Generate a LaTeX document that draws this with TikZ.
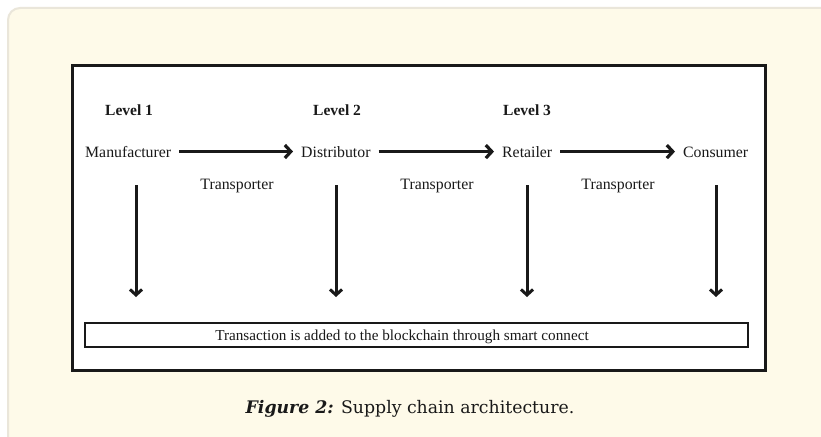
\documentclass[tikz,border=0pt]{standalone}
\usepackage{fontspec}
\setmainfont{Liberation Serif}
\newfontfamily\capfont{DejaVu Serif}
\usetikzlibrary{arrows.meta}
\definecolor{panel}{RGB}{254,250,233}
\definecolor{panelrule}{RGB}{234,230,218}
\definecolor{ink}{RGB}{25,25,25}
\begin{document}
\begin{tikzpicture}[x=1pt,y=-1pt,
  lbl/.style={inner sep=0pt, anchor=base west, text=ink, font=\fontsize{15.8}{18}\selectfont},
  lvl/.style={lbl, font=\fontsize{15.5}{18}\selectfont\bfseries},
  trans/.style={lbl, anchor=base},
  harrow/.style={draw=ink, line width=3.2pt, shorten <=8pt, shorten >=8pt,
    -{Straight Barb[length=6pt,width=13pt,line width=3.2pt]}},
  varrow/.style={draw=ink, line width=3pt,
    -{Straight Barb[length=5.5pt,width=12pt,line width=3pt]}}]
\useasboundingbox (0,0) rectangle (821,436);
\fill[white] (0,0) rectangle (821,436);
% cream page panel
\fill[panel, rounded corners=12pt] (8,460) -- (8,8) -- (840,8) -- (840,460) -- cycle;
\draw[panelrule, line width=2pt, rounded corners=12pt] (8,460) -- (8,8) -- (840,8);
% framed figure area
\draw[ink, fill=white, line width=3pt] (72,65) rectangle (765,370);

% level headings
\node[lvl] (l1) at (105,115) {Level 1};
\node[lvl] (l2) at (313,115) {Level 2};
\node[lvl] (l3) at (503,115) {Level 3};

% supply chain parties
\node[lbl] (man) at (85,157) {Manufacturer};
\node[lbl] (dis) at (301,157) {Distributor};
\node[lbl] (ret) at (502,157) {Retailer};
\node[lbl] (con) at (683,157) {Consumer};

\draw[harrow] (man.east) -- (man.east -| dis.west);
\draw[harrow] (dis.east) -- (dis.east -| ret.west);
\draw[harrow] (ret.east) -- (ret.east -| con.west);

% transport labels
\node[trans] (t1) at (237,189) {Transporter};
\node[trans] (t2) at (437,189) {Transporter};
\node[trans] (t3) at (618,189) {Transporter};

% blockchain bar
\node[draw=ink, line width=2.6pt, minimum width=663pt, minimum height=24pt, inner sep=0pt]
  (chain) at (416.5,335) {};
\node[trans, font=\fontsize{15.2}{18}\selectfont] (chaintext) at (402,340)
  {Transaction is added to the blockchain through smart connect};

% vertical arrows to the blockchain
\coordinate (a1) at (136,185); \coordinate (b1) at (136,297);
\coordinate (a2) at (336,185); \coordinate (b2) at (336,297);
\coordinate (a3) at (527,185); \coordinate (b3) at (527,297);
\coordinate (a4) at (716,185); \coordinate (b4) at (716,297);
\draw[varrow] (a1) -- (b1);
\draw[varrow] (a2) -- (b2);
\draw[varrow] (a3) -- (b3);
\draw[varrow] (a4) -- (b4);

% caption
\node[anchor=base, inner sep=0pt, text=ink] (cap) at (410,413)
  {\capfont\fontsize{17.3}{20}\selectfont\textbf{\textit{Figure 2:}} Supply chain architecture.};
\end{tikzpicture}
\end{document}
